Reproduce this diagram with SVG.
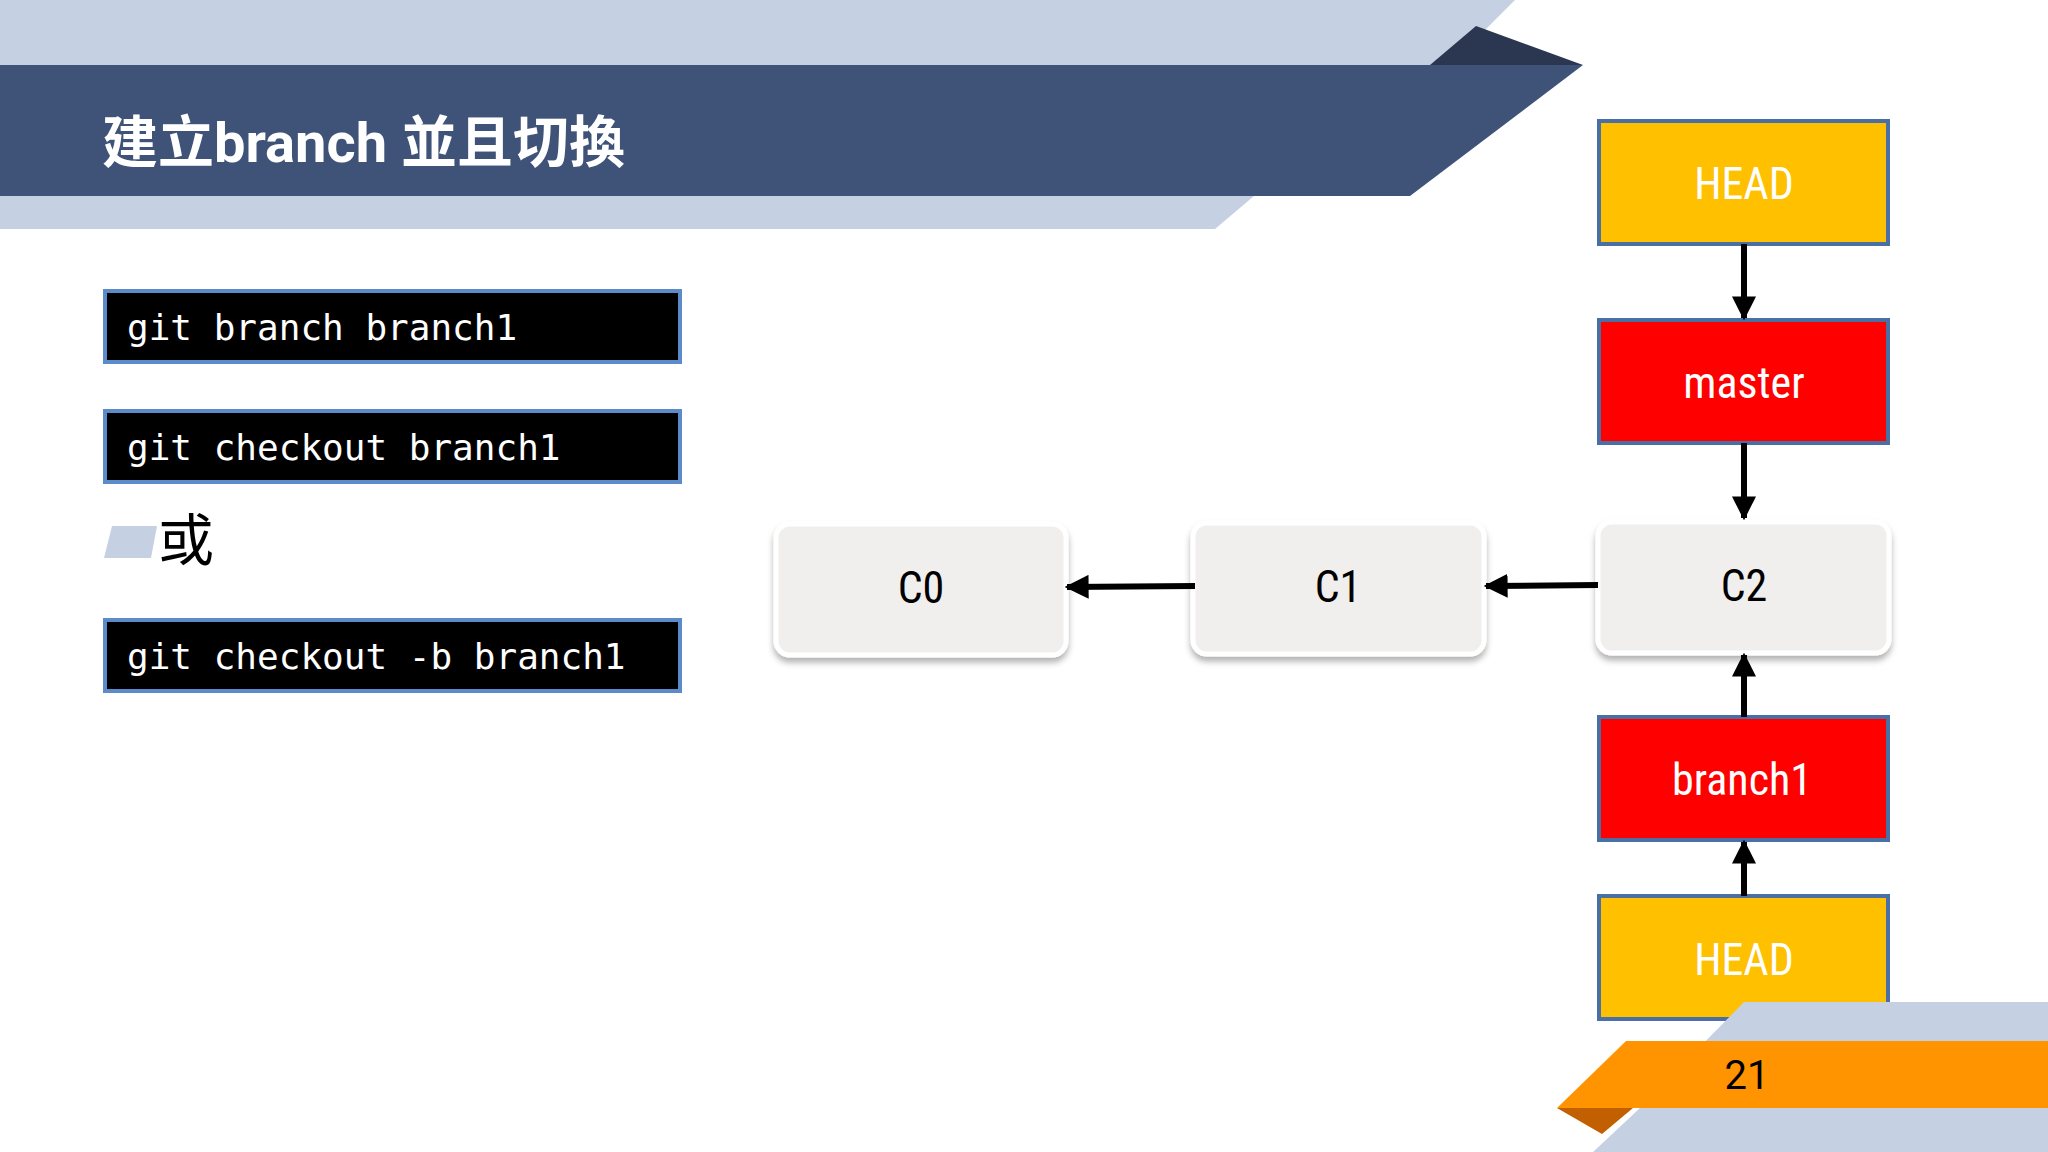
<svg xmlns="http://www.w3.org/2000/svg" width="2048" height="1152" viewBox="0 0 2048 1152">
<defs>
<style>
.code{fill:#000;stroke:#5b8bc9;stroke-width:4}
.ct{font-family:"DejaVu Sans Mono","Liberation Mono",monospace;font-size:36px;fill:#fff}
.commit{fill:#f0efed;stroke:#fff;stroke-width:5}
.lbl{font-family:"Roboto Condensed",Roboto,"Liberation Sans",sans-serif;font-size:44px;text-anchor:middle}
.head{fill:#ffc000;stroke:#4a6fa5;stroke-width:4}
.br{fill:#ff0000;stroke:#4a6fa5;stroke-width:4}
.con{stroke:#000;stroke-width:6;fill:none;marker-end:url(#ah)}
</style>
<marker id="ah" viewBox="0 0 10 10" refX="9" refY="5" markerWidth="4" markerHeight="4" orient="auto"><path d="M0,0L10,5L0,10z" fill="#000"/></marker>
<filter id="sh" x="-10%" y="-10%" width="120%" height="130%"><feDropShadow dx="0" dy="5" stdDeviation="3" flood-color="#000" flood-opacity="0.3"/></filter>
</defs>
<rect width="2048" height="1152" fill="#fff"/>
<g id="banner">
<polygon points="0,0 1515,0 1450,65 0,65" fill="#c5d0e3"/>
<polygon points="1430,65 1476,26 1583,65" fill="#2b3650"/>
<polygon points="0,65 1583,65 1410,196 0,196" fill="#3f5278"/>
<polygon points="0,196 1254,196 1215,229 0,229" fill="#c5d0e3"/>
<text x="102" y="162" font-family="Roboto,'Noto Sans CJK TC',sans-serif" font-weight="bold" font-size="56" fill="#fff">建立branch 並且切換</text>
</g>
<g id="cmd1"><rect class="code" x="105" y="291" width="575" height="71"/><text class="ct" x="127" y="340">git branch branch1</text></g>
<g id="cmd2"><rect class="code" x="105" y="411" width="575" height="71"/><text class="ct" x="127" y="460">git checkout branch1</text></g>
<g id="or"><polygon points="112,526 157,526 151,558 104,558" fill="#c5d0e3"/><text x="158" y="560" font-family="'Noto Sans CJK TC',sans-serif" font-size="56" fill="#000">或</text></g>
<g id="cmd3"><rect class="code" x="105" y="620" width="575" height="71"/><text class="ct" x="127" y="669">git checkout -b branch1</text></g>
<g id="C0"><rect class="commit" filter="url(#sh)" x="776" y="524" width="290" height="131" rx="14"/><text class="lbl" x="921" y="603">C0</text></g>
<g id="C1"><rect class="commit" filter="url(#sh)" x="1193" y="523" width="291" height="131" rx="14"/><text class="lbl" x="1338" y="602">C1</text></g>
<g id="C2"><rect class="commit" filter="url(#sh)" x="1598" y="522" width="291" height="131" rx="14"/><text class="lbl" x="1744" y="601">C2</text></g>
<g id="HEAD1"><rect class="head" x="1599" y="121" width="289" height="123"/><text class="lbl" x="1744" y="199" fill="#fff" font-size="50">HEAD</text></g>
<g id="master"><rect class="br" x="1599" y="320" width="289" height="123"/><text class="lbl" x="1744" y="398" fill="#fff" font-size="50">master</text></g>
<g id="branch1"><rect class="br" x="1599" y="717" width="289" height="123"/><text class="lbl" x="1742" y="795" fill="#fff" font-size="50">branch1</text></g>
<g id="HEAD2"><rect class="head" x="1599" y="896" width="289" height="123"/><text class="lbl" x="1744" y="975" fill="#fff" font-size="50">HEAD</text></g>
<g id="connectors">
<line class="con" x1="1744" y1="244" x2="1744" y2="318"/>
<line class="con" x1="1744" y1="443" x2="1744" y2="518"/>
<line class="con" x1="1598" y1="585" x2="1486" y2="586"/>
<line class="con" x1="1195" y1="586" x2="1067" y2="587"/>
<line class="con" x1="1744" y1="717" x2="1744" y2="655"/>
<line class="con" x1="1744" y1="896" x2="1744" y2="842"/>
</g>
<g id="footer">
<polygon points="1744,1002 2048,1002 2048,1152 1593,1152 1640,1108" fill="#c5d0e3"/>
<polygon points="1626,1041 2048,1041 2048,1108 1557,1108" fill="#ff9400"/>
<polygon points="1557,1108 1633,1108 1602,1134" fill="#c25f00"/>
<text x="1747" y="1089" font-family="Roboto,'Liberation Sans',sans-serif" font-size="40" text-anchor="middle" fill="#000">21</text>
</g>
</svg>
